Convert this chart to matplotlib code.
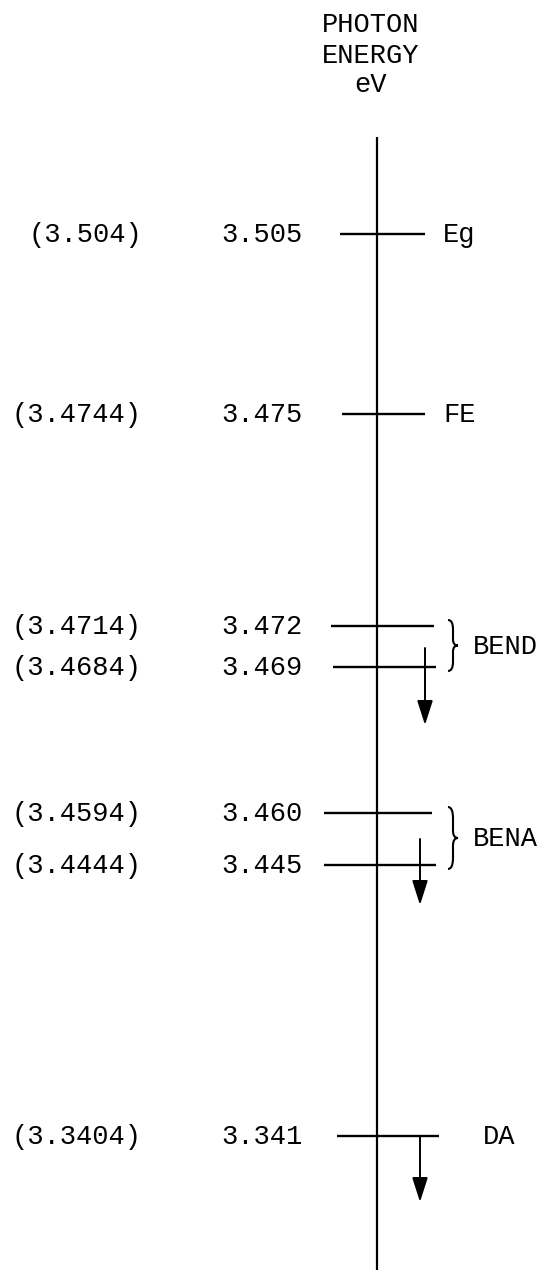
import matplotlib
matplotlib.use("Agg")
import matplotlib.pyplot as plt
from matplotlib.path import Path
from matplotlib.patches import PathPatch

# level energies (eV) and the values quoted in brackets beside them
energies = [3.505, 3.475, 3.472, 3.469, 3.460, 3.445, 3.341]
bracket_labels = ["(3.504)", "(3.4744)", "(3.4714)", "(3.4684)",
                  "(3.4594)", "(3.4444)", "(3.3404)"]
single_tags = {0: "Eg", 1: "FE", 6: "DA"}
pair_tags = [("BEND", 2, 3), ("BENA", 4, 5)]
arrow_levels = [3, 5, 6]

# drawing layout, in pixels from the top-left corner
W, H = 553, 1270
axis_x = 377
axis_top = 137
row_y = [233.5, 413.5, 626, 667, 813, 865, 1136]
bar_left = [340, 342, 331, 333, 324, 324, 337]
bar_right = [425, 425, 434, 436, 432, 436, 439]
arrow_x = {3: 425, 5: 420, 6: 420}
arrow_top = {3: 648, 5: 839, 6: 1136}
arrow_len = {3: 77, 5: 66, 6: 66}

FONT = "Liberation Mono"
FS = 19.5
BASE = 8  # half cap height: puts the baseline so text is centred on a level

fig = plt.figure(figsize=(W / 100, H / 100), dpi=100)
ax = fig.add_axes([0, 0, 1, 1])
ax.set_xlim(0, W)
ax.set_ylim(H, 0)
ax.axis("off")

# header
for txt, yb in zip(["PHOTON", "ENERGY", "eV"], [32, 63, 92]):
    ax.text(371, yb, txt, fontsize=FS, family=FONT, ha="center", va="baseline")

# vertical energy axis
ax.vlines(axis_x, axis_top, H, color="black", lw=1.6)

# levels with their labels
ax.hlines(row_y, bar_left, bar_right, color="black", lw=1.7)
for i, e in enumerate(energies):
    y = row_y[i]
    ax.text(142, y + BASE, bracket_labels[i], fontsize=FS, family=FONT,
            ha="right", va="baseline")
    ax.text(303, y + BASE, f"{e:.3f}", fontsize=FS, family=FONT,
            ha="right", va="baseline")

for i, tag in single_tags.items():
    tx = 483 if tag == "DA" else 443
    ax.text(tx, row_y[i] + BASE, tag, fontsize=FS, family=FONT, ha="left", va="baseline")


def brace(x0, y0, y1, w):
    h = y1 - y0
    ym = (y0 + y1) / 2
    xm = x0 + w / 2
    verts = [(x0, y0), (xm, y0), (xm, y0 + 0.18 * h),
             (xm, ym - 0.12 * h),
             (xm, ym), (x0 + w, ym),
             (xm, ym), (xm, ym + 0.12 * h),
             (xm, y1 - 0.18 * h),
             (xm, y1), (x0, y1)]
    codes = [Path.MOVETO, Path.CURVE3, Path.CURVE3,
             Path.LINETO,
             Path.CURVE3, Path.CURVE3,
             Path.CURVE3, Path.CURVE3,
             Path.LINETO,
             Path.CURVE3, Path.CURVE3]
    ax.add_patch(PathPatch(Path(verts, codes), fill=False, lw=1.5, color="black"))


for tag, a, b in pair_tags:
    y0, y1 = row_y[a] - 6, row_y[b] + 4
    brace(448, y0, y1, 10)
    ax.text(473, (y0 + y1) / 2 + BASE, tag, fontsize=FS, family=FONT,
            ha="left", va="baseline")

# downward decay arrows
for i in arrow_levels:
    x = arrow_x[i]
    ax.annotate("", xy=(x, arrow_top[i] + arrow_len[i]), xytext=(x, arrow_top[i]),
                arrowprops=dict(arrowstyle="-|>,head_length=0.75,head_width=0.24",
                                color="black", lw=1.4, mutation_scale=20,
                                shrinkA=0, shrinkB=0))

fig.savefig("out.png", dpi=100, facecolor="white")
